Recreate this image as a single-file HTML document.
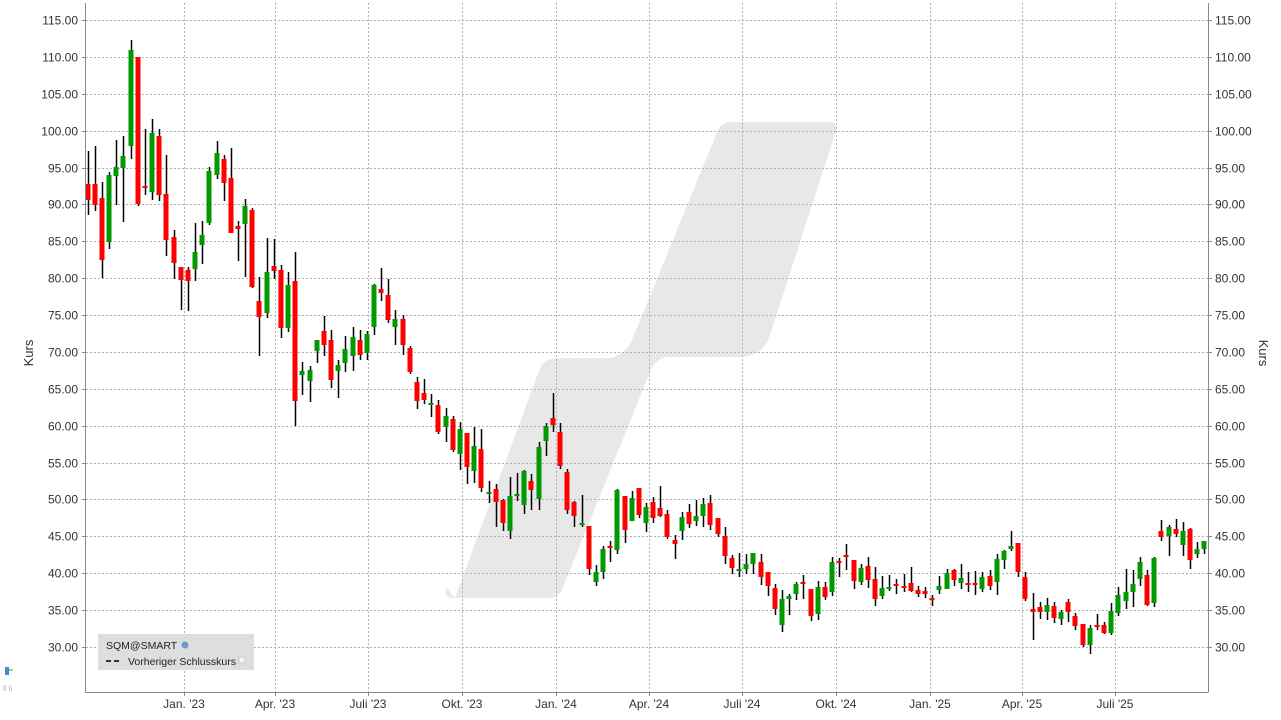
<!DOCTYPE html>
<html><head><meta charset="utf-8"><style>
html,body{margin:0;padding:0;background:#fff;width:1281px;height:720px;overflow:hidden}
svg text{font-family:"Liberation Sans",sans-serif;font-size:12px;fill:#333}
</style></head><body>
<svg id="s" width="1281" height="720" xmlns="http://www.w3.org/2000/svg">
<path d="M455 598 L540 368 Q545 358 560 358 L610 358 Q625 355 632 340 L718 130 Q722 122 732 122 L828 122 Q840 122 835 134 L770 335 Q762 357 740 357 L665 357 Q655 360 650 372 L562 590 Q558 598 548 598 L455 598 Q442 598 447 588 Z" fill="#e8e8e8"/>
<g id="grid" stroke="#b0b0b0" stroke-width="1" stroke-dasharray="2,2"></g>
<g id="c"></g>
<line x1="85.5" y1="3" x2="85.5" y2="692.5" stroke="#888"/>
<line x1="85" y1="692.5" x2="1208" y2="692.5" stroke="#888"/>
<line x1="1208.5" y1="3" x2="1208.5" y2="692.5" stroke="#888"/>
<g id="lbl"></g>
<text transform="translate(33,353) rotate(-90)" text-anchor="middle" style="font-size:13px">Kurs</text>
<text transform="translate(1259,353) rotate(90)" text-anchor="middle" style="font-size:13px">Kurs</text>
<rect x="98" y="634" width="156" height="36" fill="#dedede"/>
<text x="106" y="649" style="font-size:10.5px;fill:#222">SQM@SMART</text>
<circle cx="185" cy="645" r="3.5" fill="#6a9ad0"/>
<line x1="106" y1="661" x2="111" y2="661" stroke="#333" stroke-width="2"/>
<line x1="114" y1="661" x2="119" y2="661" stroke="#333" stroke-width="2"/>
<text x="128" y="665" style="font-size:10.5px;fill:#222">Vorheriger Schlusskurs</text>
<rect x="239" y="657" width="6" height="6" fill="#f4f4f4" stroke="#ccc"/>
<rect x="5" y="667" width="4" height="8" fill="#4a8ac8"/>
<line x1="8" y1="670" x2="13" y2="670" stroke="#2a2" />
<text x="3" y="691" style="font-size:8px;fill:#bbb">ll lı</text>
</svg>
<script>
var ns="http://www.w3.org/2000/svg";
function el(p,t,a,txt){var e=document.createElementNS(ns,t);for(var k in a)e.setAttribute(k,a[k]);if(txt)e.textContent=txt;p.appendChild(e);return e;}
var g=document.getElementById('grid'),L=document.getElementById('lbl'),C=document.getElementById('c');
for(var v=30;v<=115;v+=5){var y=Math.round(647-(v-30)*7.376)+0.5;
el(g,'line',{x1:86,x2:1208,y1:y,y2:y});
el(L,'line',{x1:82,x2:86,y1:y,y2:y,stroke:'#888'});
el(L,'line',{x1:1208,x2:1212,y1:y,y2:y,stroke:'#888'});
el(L,'text',{x:78,y:y+4,'text-anchor':'end'},v.toFixed(2));
el(L,'text',{x:1215,y:y+4},v.toFixed(2));}
var xs=[[184,"Jan. '23"],[275,"Apr. '23"],[368,"Juli '23"],[462,"Okt. '23"],[556,"Jan. '24"],[649,"Apr. '24"],[742,"Juli '24"],[836,"Okt. '24"],[930,"Jan. '25"],[1022,"Apr. '25"],[1115,"Juli '25"]];
xs.forEach(function(a){var x=a[0]+0.5;el(g,'line',{x1:x,x2:x,y1:3,y2:692});el(L,'line',{x1:x,x2:x,y1:692,y2:696,stroke:'#888'});el(L,'text',{x:a[0],y:708,'text-anchor':'middle'},a[1]);});
var d=[[88,'r',184,200,151,215],[95,'r',184,205,146,211],[102,'r',198,260,182,278],[109,'g',175,242,172,249],[116,'g',167,176,140,205],[123,'g',156,168,136,222],[131,'g',50,146,40,159],[138,'r',57,204,57,206],[145,'r',186,188,129,195],[152,'g',133,192,119,200],[159,'r',136,195,129,201],[166,'r',194,240,155,256],[174,'r',237,263,230,279],[181,'r',267,280,267,310],[188,'r',270,281,267,311],[195,'g',252,269,223,281],[202,'g',235,245,221,264],[209,'g',171,223,167,225],[217,'g',153,175,141,179],[224,'r',159,183,155,201],[231,'r',178,233,148,233],[238,'r',226,229,221,261],[245,'g',206,224,199,277],[252,'r',210,287,208,288],[259,'r',301,317,277,356],[267,'g',272,313,238,318],[274,'r',266,271,239,279],[281,'r',270,328,265,338],[288,'g',285,328,272,332],[295,'r',281,401,252,426],[302,'g',371,375,362,395],[310,'g',370,381,366,402],[317,'g',340,351,340,363],[324,'r',331,345,316,356],[331,'r',340,380,330,388],[338,'g',365,371,360,398],[345,'g',349,363,336,372],[353,'g',337,356,327,371],[360,'r',340,355,330,360],[367,'g',334,353,331,360],[374,'g',285,327,284,335],[381,'r',289,293,268,301],[388,'r',295,320,279,323],[395,'g',319,327,310,345],[403,'r',319,345,315,355],[410,'r',348,372,346,374],[417,'r',382,401,377,409],[424,'r',393,400,379,404],[431,'g',403,405,394,417],[438,'r',405,432,400,434],[446,'g',416,427,408,442],[453,'r',419,450,416,452],[460,'g',429,454,422,470],[467,'r',433,467,433,484],[474,'g',446,471,427,483],[481,'r',449,488,429,492],[489,'g',492,494,481,503],[496,'r',489,502,484,527],[503,'r',500,523,499,531],[510,'g',496,531,477,539],[517,'g',494,496,473,501],[524,'g',471,505,470,514],[531,'r',481,490,474,510],[539,'g',447,499,442,510],[546,'g',426,441,423,456],[553,'r',418,425,393,432],[560,'r',432,466,423,469],[567,'r',472,510,469,514],[574,'r',502,516,501,527],[582,'g',523,525,495,527],[589,'r',526,569,526,575],[596,'g',572,582,565,586],[603,'g',549,572,546,579],[610,'r',546,548,541,562],[617,'g',490,550,489,554],[625,'r',496,530,496,543],[632,'g',498,521,491,521],[639,'r',488,515,488,518],[646,'g',507,523,503,532],[653,'r',502,518,497,523],[660,'r',508,516,486,517],[667,'r',514,537,510,539],[675,'r',540,544,535,559],[682,'g',517,531,512,540],[689,'r',512,524,504,528],[696,'g',516,521,500,526],[703,'g',504,516,498,527],[710,'r',503,525,495,530],[718,'r',518,534,518,537],[725,'r',536,556,527,564],[732,'r',558,568,555,574],[739,'g',569,571,553,577],[746,'g',564,569,554,574],[753,'g',553,564,553,574],[761,'r',562,577,554,585],[768,'r',572,586,572,596],[775,'r',588,609,584,615],[782,'g',599,625,590,632],[789,'g',596,599,594,615],[796,'g',584,594,582,600],[803,'r',582,584,575,599],[811,'r',589,616,589,621],[818,'g',587,614,581,620],[825,'r',587,597,582,600],[832,'g',562,592,557,596],[839,'r',561,563,558,577],[846,'r',555,557,544,570],[854,'r',560,581,560,589],[861,'g',568,582,564,585],[868,'r',566,580,557,588],[875,'r',579,599,567,606],[882,'g',588,596,576,599],[889,'g',587,589,575,591],[896,'r',584,586,579,594],[904,'r',586,588,574,592],[911,'r',583,591,567,592],[918,'r',590,594,586,597],[925,'r',591,594,587,598],[932,'r',598,600,595,606],[939,'g',586,590,576,594],[947,'g',573,589,569,589],[954,'r',570,580,569,586],[961,'g',578,583,564,589],[968,'r',583,585,572,592],[975,'r',583,585,571,595],[982,'g',577,589,572,592],[990,'r',576,586,570,590],[997,'g',559,582,554,595],[1004,'g',551,560,550,569],[1011,'g',546,549,531,551],[1018,'r',543,572,543,577],[1025,'r',577,599,572,601],[1033,'r',609,612,593,640],[1040,'r',607,612,602,619],[1047,'g',605,612,598,620],[1054,'r',606,618,602,623],[1061,'g',612,619,610,625],[1068,'r',602,612,599,622],[1075,'r',616,626,613,630],[1083,'r',624,645,624,647],[1090,'g',628,645,625,654],[1097,'r',625,627,614,630],[1104,'r',625,633,622,634],[1111,'g',611,633,603,635],[1118,'g',595,613,587,616],[1126,'g',592,601,569,609],[1133,'g',584,592,570,607],[1140,'g',562,579,557,586],[1147,'r',575,605,570,606],[1154,'g',558,603,557,607],[1161,'r',531,537,520,541],[1169,'g',527,536,525,556],[1176,'r',529,534,519,537],[1183,'g',531,545,522,556],[1190,'r',529,560,528,569],[1197,'g',549,554,542,558],[1204,'g',541,549,541,554]];
d.forEach(function(c){var x=c[0];el(C,'rect',{x:x-0.25,y:c[4],width:1.5,height:c[5]-c[4],fill:'#000'});
el(C,'rect',{x:x-2.5,y:c[2],width:5,height:Math.max(2,c[3]-c[2]),fill:c[1]=='r'?'#ff0000':'#009900'});});
</script>
</body></html>
